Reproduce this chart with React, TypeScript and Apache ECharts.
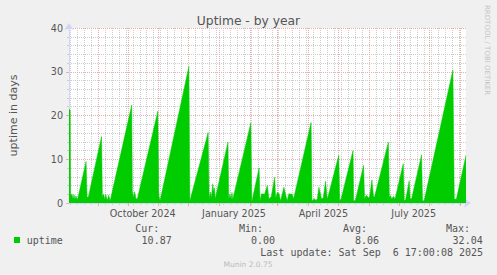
import React, { useEffect, useRef } from 'react';
import * as echarts from 'echarts';

// Time window: 400 days ending at the last update
const END = Date.UTC(2025, 8, 6, 17, 0, 8);
const SPAN_DAYS = 400;
const START = END - SPAN_DAYS * 86400000;
const dayOf = (y: number, m: number, d: number) => (Date.UTC(y, m - 1, d) - START) / 86400000;

// Uptime samples: [days since window start, uptime in days]
const uptimePoints: [number, number][] = [
  [0, 21.5], [1.2, 21.2], [1.6, 2.0], [2.2, 1.6], [3, 2.1], [4, 0.9], [5, 1.9], [6, 0.8], [7, 1.6], [8.5, 0.7],
  [17.2, 9.5], [18.2, 1.3], [19.5, 1.4],
  [32.8, 15.2], [33.6, 1.5], [35, 2.0], [36, 0.8], [37, 2.0], [38.5, 0.6], [40, 1.8], [41.5, 0.5],
  [63.2, 22.4], [63.8, 2.8], [65, 1.2], [66, 2.6], [67.5, 1.0], [68.8, 0.9],
  [89.5, 21.0], [90.5, 1.7], [91.8, 0.6],
  [120.8, 31.2], [121.8, 0.5],
  [140.2, 16.1], [141.2, 1.0], [142.5, 2.5], [143.5, 1.2], [144.8, 4.4], [145.8, 2.5], [146.5, 3.5], [147.3, 1.0],
  [160.2, 13.9], [161.0, 1.0], [162.2, 2.0], [163.5, 1.0], [164.2, 2.4], [165, 0.8],
  [183.2, 18.3], [184.2, 0.3],
  [191.5, 8.0], [192.5, 0.5], [194, 2.1], [197, 2.0], [199.8, 4.0], [201.5, 0.9], [203.8, 1.5],
  [207.2, 5.9], [208.2, 1.1], [209.8, 2.4], [211.5, 2.2], [213.2, 0.5], [216.5, 3.6], [219.8, 0.5],
  [221.5, 2.1], [224.8, 2.0], [226.3, 1.0],
  [243.9, 18.4], [244.8, 0.5], [247, 1.0], [249, 0.6], [250.2, 1.0], [251.8, 3.6], [254.5, 0.9],
  [256.2, 1.2], [258.5, 5.0], [260.2, 0.9], [260.8, 1.3],
  [271.8, 10.9], [272.8, 0.5], [274.2, 1.0],
  [286.2, 12.0], [286.8, 0.5], [288.5, 0.6],
  [296.8, 8.6], [297.8, 1.0], [299.5, 1.8], [301.8, 1.2], [302.8, 1.3], [305.2, 5.3], [306.8, 1.5], [307.8, 1.4],
  [321.8, 13.9], [322.8, 1.4], [324, 1.7], [325.2, 1.0], [327, 1.5], [328.5, 0.9],
  [336.8, 9.0], [337.8, 0.5], [339.2, 0.8],
  [342.8, 5.1], [343.8, 1.0], [345.2, 1.0],
  [355.2, 11.0], [356.2, 0.5], [357.8, 0.5],
  [386.8, 30.4], [388.2, 1.0], [390.2, 0.8],
  [400, 10.9],
];

// Axis labels: month name + year, centred half a month after the month start
const monthLabels = ['October 2024', 'January 2025', 'April 2025', 'July 2025'];
const monthLabelMonths: [number, number][] = [[2024, 10], [2025, 1], [2025, 4], [2025, 7]];

const Y_MIN = 0;
const Y_MAX = 40;
const Y_INTERVAL = 10;

// Legend statistics
const seriesName = 'uptime';
const statHeaders = ['Cur:', 'Min:', 'Avg:', 'Max:'];
const statValues = ['10.87', '0.00', '8.06', '32.04'];
const lastUpdate = 'Last update: Sat Sep  6 17:00:08 2025';

const GREEN = '#00CC00';
const MGRID = '#EBAEAE';
const GRID = '#CDCDCD';
const AXIS = '#CFD6F8';
const FONT = '#555555';

export default function App() {
  const ref = useRef<HTMLDivElement>(null);
  useEffect(() => {
    document.body.style.margin = '0';
    document.body.style.background = '#F0F0F0';
    if (!ref.current) return;
    const chart = echarts.init(ref.current, undefined, { renderer: 'svg' });

    const monthTicks: number[] = [];
    for (let y = 2024; y <= 2025; y++) {
      for (let m = 1; m <= 12; m++) {
        const d = dayOf(y, m, 1);
        if (d >= 0 && d <= SPAN_DAYS) monthTicks.push(d);
      }
    }
    const weekTicks: number[] = [];
    for (let d = dayOf(2024, 8, 4); d <= SPAN_DAYS; d += 7) weekTicks.push(d);
    const labelPos = monthLabelMonths.map(([y, m]) => dayOf(y, m, 1) + 15);
    const labelFor = (v: number) => {
      let best = 0;
      labelPos.forEach((p, i) => { if (Math.abs(p - v) < Math.abs(labelPos[best] - v)) best = i; });
      return monthLabels[best];
    };

    const mono = '10px "DejaVu Sans Mono"';
    const statRightHeader = [159.3, 263, 367, 470];
    const statRightValue = [171.7, 275, 379, 482.7];
    const graphic: any[] = [
      { type: 'rect', shape: { x: 14, y: 237, width: 6, height: 6 }, style: { fill: GREEN } },
      { type: 'text', x: 26.7, y: 240, style: { text: seriesName, font: mono, fill: FONT, textAlign: 'left', textVerticalAlign: 'middle', align: 'left', verticalAlign: 'middle' } },
      ...statHeaders.map((t, i) => ({ type: 'text', x: statRightHeader[i], y: 228, style: { text: t, font: mono, fill: FONT, textAlign: 'right', textVerticalAlign: 'middle', align: 'right', verticalAlign: 'middle' } })),
      ...statValues.map((t, i) => ({ type: 'text', x: statRightValue[i], y: 240, style: { text: t, font: mono, fill: FONT, textAlign: 'right', textVerticalAlign: 'middle', align: 'right', verticalAlign: 'middle' } })),
      { type: 'text', x: 260.3, y: 252, style: { text: lastUpdate, font: mono, fill: FONT, textAlign: 'left', textVerticalAlign: 'middle', align: 'left', verticalAlign: 'middle', whiteSpace: 'pre' } },
      { type: 'text', x: 248, y: 264, style: { text: 'Munin 2.0.75', font: '7.5px "DejaVu Sans"', fill: '#BBBBBB', textAlign: 'center', textVerticalAlign: 'middle', align: 'center', verticalAlign: 'middle' } },
      { type: 'text', x: 487, y: 5, rotation: -Math.PI / 2, style: { text: 'RRDTOOL / TOBI OETIKER', font: '7px "DejaVu Sans"', fill: '#C4C4C4', textAlign: 'left', textVerticalAlign: 'middle', align: 'left', verticalAlign: 'middle' } },
    ];

    const option: any = {
      animation: false,
      backgroundColor: '#F0F0F0',
      textStyle: { fontFamily: 'DejaVu Sans' },
      title: {
        text: 'Uptime - by year', left: 'center', top: 10,
        textStyle: { fontSize: 12.3, fontWeight: 'normal', color: FONT, fontFamily: 'DejaVu Sans' },
      },
      grid: { left: 67, right: 31, top: 28, bottom: 72, show: true, backgroundColor: '#FFFFFF', borderWidth: 0 },
      xAxis: [
        {
          type: 'value', min: 0, max: SPAN_DAYS, position: 'bottom', z: 1,
          axisLine: { show: true, lineStyle: { color: AXIS, width: 1 }, symbol: ['none', 'arrow'], symbolSize: [7, 7], symbolOffset: [0, 5] },
          axisTick: { show: true, customValues: monthTicks, length: 3, lineStyle: { color: MGRID } },
          axisLabel: { customValues: labelPos, formatter: (v: number) => labelFor(v), color: FONT, fontSize: 9.6, margin: 5, fontFamily: 'DejaVu Sans' },
          splitLine: { show: true, lineStyle: { color: MGRID, type: [1, 1], width: 1 } },
        },
        {
          type: 'value', min: 0, max: SPAN_DAYS, position: 'bottom', z: 0,
          axisLine: { show: false },
          axisTick: { show: true, customValues: weekTicks, length: 2, lineStyle: { color: GRID } },
          axisLabel: { show: false },
          splitLine: { show: true, lineStyle: { color: GRID, type: [1, 1], width: 1 } },
        },
      ],
      yAxis: {
        type: 'value', min: Y_MIN, max: Y_MAX, interval: Y_INTERVAL, z: 1,
        name: 'uptime in days', nameLocation: 'middle', nameGap: 50,
        nameTextStyle: { color: FONT, fontSize: 11, fontFamily: 'DejaVu Sans' },
        axisLine: { show: true, lineStyle: { color: AXIS, width: 1 }, symbol: ['none', 'arrow'], symbolSize: [7, 7], symbolOffset: [0, 5] },
        axisTick: { show: true, length: 3, lineStyle: { color: MGRID } },
        minorTick: { show: true, splitNumber: 5, length: 2, lineStyle: { color: GRID } },
        axisLabel: { color: FONT, fontSize: 9.6, margin: 6, fontFamily: 'DejaVu Sans' },
        splitLine: { show: true, lineStyle: { color: MGRID, type: [1, 1], width: 1 } },
        minorSplitLine: { show: true, lineStyle: { color: GRID, type: [1, 1], width: 1 } },
      },
      series: [
        {
          name: seriesName, type: 'line', xAxisIndex: 0, yAxisIndex: 0,
          data: uptimePoints, showSymbol: false, symbol: 'none', z: 2,
          color: GREEN, lineStyle: { width: 0.5, color: GREEN },
          areaStyle: { color: GREEN, opacity: 1 },
        },
      ],
      graphic,
    };
    chart.setOption(option);
    return () => chart.dispose();
  }, []);
  return <div ref={ref} style={{ width: 497, height: 275 }} />;
}
